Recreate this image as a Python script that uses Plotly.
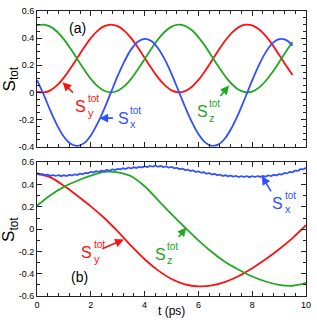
import plotly.graph_objects as go

# ---------------- data ----------------
# panel (a): time grid (ps) and total spin components
t_a = [i * 0.25 for i in range(39)]  # 0 .. 9.5 ps
sx_a = [0.090, -0.017, -0.137, -0.243, -0.327, -0.379, -0.395, -0.374, -0.317, -0.229,
        -0.121, 0.000, 0.121, 0.229, 0.317, 0.374, 0.395, 0.379, 0.326, 0.243,
        0.137, 0.017, -0.104, -0.215, -0.306, -0.368, -0.394, -0.383, -0.336, -0.256,
        -0.153, -0.034, 0.088, 0.201, 0.295, 0.361, 0.393, 0.387, 0.345]
sy_a = [0.003, 0.000, 0.015, 0.053, 0.109, 0.179, 0.255, 0.331, 0.400, 0.454,
        0.488, 0.500, 0.488, 0.454, 0.400, 0.331, 0.255, 0.179, 0.109, 0.053,
        0.015, 0.000, 0.009, 0.040, 0.092, 0.159, 0.234, 0.311, 0.382, 0.440,
        0.481, 0.499, 0.494, 0.465, 0.416, 0.352, 0.277, 0.200, 0.128]
sz_a = [0.495, 0.500, 0.485, 0.447, 0.391, 0.321, 0.245, 0.169, 0.100, 0.046,
        0.012, 0.000, 0.012, 0.046, 0.100, 0.169, 0.245, 0.321, 0.391, 0.447,
        0.485, 0.500, 0.491, 0.460, 0.408, 0.341, 0.266, 0.189, 0.118, 0.060,
        0.019, 0.001, 0.006, 0.035, 0.084, 0.148, 0.223, 0.300, 0.372]

# panel (b)
t_b_fine = [i * 0.1 for i in range(101)]  # 0 .. 10 ps
sx_b = [0.501, 0.490, 0.495, 0.485, 0.490, 0.479, 0.486, 0.478, 0.485, 0.477,
        0.484, 0.478, 0.488, 0.482, 0.492, 0.486, 0.498, 0.494, 0.506, 0.502,
        0.514, 0.509, 0.520, 0.515, 0.526, 0.521, 0.532, 0.526, 0.537, 0.531,
        0.542, 0.536, 0.547, 0.541, 0.552, 0.546, 0.556, 0.550, 0.560, 0.554,
        0.564, 0.558, 0.568, 0.562, 0.570, 0.561, 0.567, 0.557, 0.563, 0.553,
        0.559, 0.547, 0.551, 0.539, 0.543, 0.531, 0.535, 0.523, 0.527, 0.515,
        0.519, 0.507, 0.511, 0.499, 0.503, 0.491, 0.496, 0.485, 0.490, 0.479,
        0.484, 0.475, 0.481, 0.472, 0.478, 0.469, 0.477, 0.469, 0.476, 0.468,
        0.476, 0.469, 0.477, 0.470, 0.478, 0.471, 0.482, 0.477, 0.488, 0.483,
        0.494, 0.491, 0.504, 0.501, 0.514, 0.511, 0.526, 0.524, 0.539, 0.537,
        0.552]
t_b = [i * 0.5 for i in range(21)]  # 0 .. 10 ps
sy_b = [0.500, 0.465, 0.390, 0.300, 0.205, 0.100, -0.020, -0.150, -0.270, -0.370,
        -0.447, -0.495, -0.513, -0.505, -0.473, -0.420, -0.350, -0.270, -0.180, -0.080,
        0.035]
sz_b = [0.210, 0.305, 0.380, 0.435, 0.480, 0.515, 0.510, 0.475, 0.385, 0.260,
        0.135, 0.015, -0.100, -0.205, -0.295, -0.365, -0.425, -0.470, -0.500, -0.508,
        -0.482]

# tick labels
x_ticks = [0, 2, 4, 6, 8, 10]
x_ticklabels = ["0", "2", "4", "6", "8", "10"]
ya_ticks = [-0.4, -0.2, 0, 0.2, 0.4, 0.6]
ya_ticklabels = ["-0.4", "-0.2", "0", "0.2", "0.4", "0.6"]
yb_ticks = [-0.6, -0.4, -0.2, 0, 0.2, 0.4, 0.6]
yb_ticklabels = ["-0.6", "-0.4", "-0.2", "0", "0.2", "0.4", "0.6"]

RED = "#ff1010"
GREEN = "#22a822"
BLUE = "#3050ff"
FONT = "Liberation Sans, Arial, sans-serif"
LW = 1.8

fig = go.Figure()
for t, v, c in [(t_a, sy_a, RED), (t_a, sz_a, GREEN), (t_a, sx_a, BLUE)]:
    fig.add_trace(go.Scatter(x=t, y=v, mode="lines", xaxis="x", yaxis="y",
                             line=dict(color=c, width=LW, shape="spline"), showlegend=False))
for t, v, c in [(t_b, sy_b, RED), (t_b, sz_b, GREEN), (t_b_fine, sx_b, BLUE)]:
    fig.add_trace(go.Scatter(x=t, y=v, mode="lines", xaxis="x2", yaxis="y2",
                             line=dict(color=c, width=LW, shape="spline"), showlegend=False))

axis_common = dict(showline=True, linecolor="#222", linewidth=1, mirror="ticks",
                   ticks="inside", ticklen=5, tickcolor="#222", tickwidth=1,
                   showgrid=False, zeroline=False,
                   tickfont=dict(family=FONT, size=9, color="black"))

fig.update_layout(
    width=317, height=323,
    margin=dict(l=37, r=7, t=6, b=27),
    paper_bgcolor="white", plot_bgcolor="white",
    font=dict(family=FONT, color="black"),
    xaxis=dict(axis_common, domain=[0, 1], range=[0, 10], anchor="y",
               tickvals=x_ticks, showticklabels=False,
               minor=dict(ticks="inside", dtick=0.4, ticklen=3, tickcolor="#222")),
    yaxis=dict(axis_common, domain=[0.524, 1.0], range=[-0.4, 0.6], anchor="x",
               tickvals=ya_ticks, ticktext=ya_ticklabels,
               minor=dict(ticks="inside", dtick=0.05, ticklen=3, tickcolor="#222")),
    xaxis2=dict(axis_common, domain=[0, 1], range=[0, 10], anchor="y2",
                tickvals=x_ticks, ticktext=x_ticklabels,
                minor=dict(ticks="inside", dtick=0.4, ticklen=3, tickcolor="#222")),
    yaxis2=dict(axis_common, domain=[0, 0.469], range=[-0.6, 0.6], anchor="x2",
                tickvals=yb_ticks, ticktext=yb_ticklabels,
                minor=dict(ticks="inside", dtick=0.1, ticklen=3, tickcolor="#222")),
)

ann = []


def spin_label(xr, yr, x, y, sub, color):
    ann.append(dict(xref=xr, yref=yr, x=x, y=y, text="S", showarrow=False,
                    xanchor="center", yanchor="middle",
                    font=dict(family=FONT, size=16, color=color)))
    ann.append(dict(xref=xr, yref=yr, x=x, y=y, text="tot", showarrow=False,
                    xanchor="left", yanchor="middle", xshift=5, yshift=8,
                    font=dict(family=FONT, size=10, color=color)))
    ann.append(dict(xref=xr, yref=yr, x=x, y=y, text=sub, showarrow=False,
                    xanchor="left", yanchor="middle", xshift=5, yshift=-6,
                    font=dict(family=FONT, size=11, color=color)))


def arrow(xr, yr, x, y, ax, ay, color):
    ann.append(dict(xref=xr, yref=yr, x=x, y=y, ax=ax, ay=ay, axref="pixel", ayref="pixel",
                    text="", showarrow=True, arrowhead=2, arrowsize=1.1, arrowwidth=1.6,
                    arrowcolor=color))


# panel (a)
ann.append(dict(xref="x", yref="y", x=1.51, y=0.477, text="(a)", showarrow=False,
                font=dict(family=FONT, size=14, color="black")))
spin_label("x", "y", 1.62, -0.105, "y", RED)
arrow("x", "y", 0.95, 0.075, 12, 12, RED)
spin_label("x", "y", 3.20, -0.19, "x", BLUE)
arrow("x", "y", 2.32, -0.19, 15, 0, BLUE)
spin_label("x", "y", 6.14, -0.141, "z", GREEN)
arrow("x", "y", 7.14, 0.05, -10, 12, GREEN)

# panel (b)
ann.append(dict(xref="x2", yref="y2", x=1.59, y=-0.432, text="(b)", showarrow=False,
                font=dict(family=FONT, size=14, color="black")))
spin_label("x2", "y2", 1.85, -0.211, "y", RED)
arrow("x2", "y2", 3.23, -0.092, -23, 10, RED)
spin_label("x2", "y2", 4.58, -0.225, "z", GREEN)
arrow("x2", "y2", 5.55, 0.015, -9, 11, GREEN)
spin_label("x2", "y2", 8.95, 0.231, "x", BLUE)
arrow("x2", "y2", 8.36, 0.478, 10, 17, BLUE)

# axis titles
ann.append(dict(xref="paper", yref="paper", x=-0.098, y=0.762, text="S<sub>tot</sub>",
                textangle=-90, showarrow=False, xanchor="center", yanchor="middle",
                font=dict(family=FONT, size=17, color="black")))
ann.append(dict(xref="paper", yref="paper", x=-0.098, y=0.234, text="S<sub>tot</sub>",
                textangle=-90, showarrow=False, xanchor="center", yanchor="middle",
                font=dict(family=FONT, size=17, color="black")))
ann.append(dict(xref="paper", yref="paper", x=0.5, y=-0.054, text="t (ps)",
                showarrow=False, xanchor="center", yanchor="middle",
                font=dict(family=FONT, size=12, color="black")))

fig.update_layout(annotations=ann)
fig.write_html("out.html",
               config={"displayModeBar": False, "staticPlot": True},
               post_script="document.body.style.margin='0';document.body.style.padding='0';")
